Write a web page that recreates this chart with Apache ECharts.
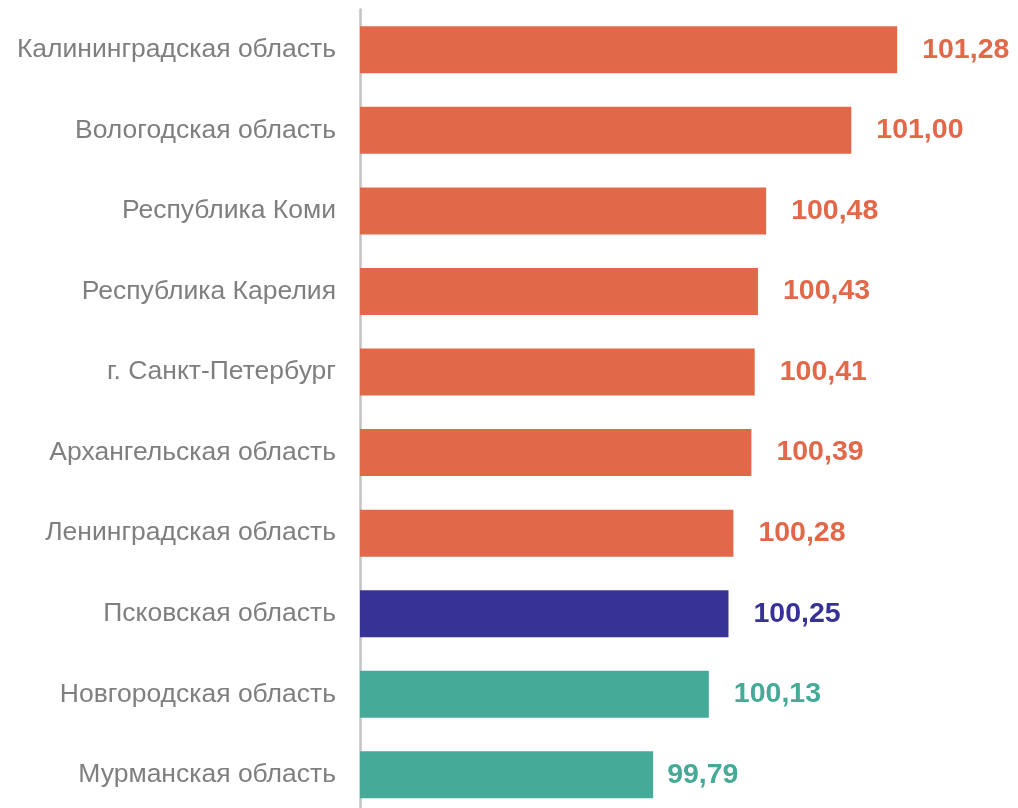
<!DOCTYPE html>
<html><head><meta charset="utf-8">
<script src="https://cdn.jsdelivr.net/npm/echarts@6/dist/echarts.min.js"></script>
<style>html,body{margin:0;padding:0;background:#fff;overflow:hidden}#c{width:1018px;height:816px}</style>
</head><body><div id="c"></div>
<script>
const categories = ["Калининградская область","Вологодская область","Республика Коми","Республика Карелия","г. Санкт-Петербург","Архангельская область","Ленинградская область","Псковская область","Новгородская область","Мурманская область"];
const values = [101.28,101.00,100.48,100.43,100.41,100.39,100.28,100.25,100.13,99.79];
const groups = ["up","up","up","up","up","up","up","self","down","down"];
const colorMap = {up:"#E2684A", self:"#373296", down:"#45AA97"};
const FONT = "'Liberation Sans', Arial, sans-serif";

const chart = echarts.init(document.getElementById('c'), null, {renderer:'canvas'});
chart.setOption({
  animation:false,
  grid:{left:360, top:9.5, height:805.6, width:573.2, containLabel:false},
  xAxis:{type:'value', min:98, max:101.5, show:false},
  yAxis:{type:'category', data:categories, inverse:true,
    axisLine:{show:true, lineStyle:{color:'#c3c3c3', width:2.5}},
    axisTick:{show:false},
    axisLabel:{color:'#7f7f7f', fontSize:26.5, fontFamily:FONT, margin:24}
  },
  series:[{
    type:'bar', barWidth:47,
    data: values.map((v,i)=>({value:v, itemStyle:{color:colorMap[groups[i]]},
      label:{color:colorMap[groups[i]], distance: i===values.length-1 ? 14 : 25}})),
    label:{show:true, position:'right', fontSize:28.5, fontWeight:'bold',
      fontFamily:FONT,
      formatter:p=>p.value.toFixed(2).replace('.',',')}
  }]
});
</script></body></html>
